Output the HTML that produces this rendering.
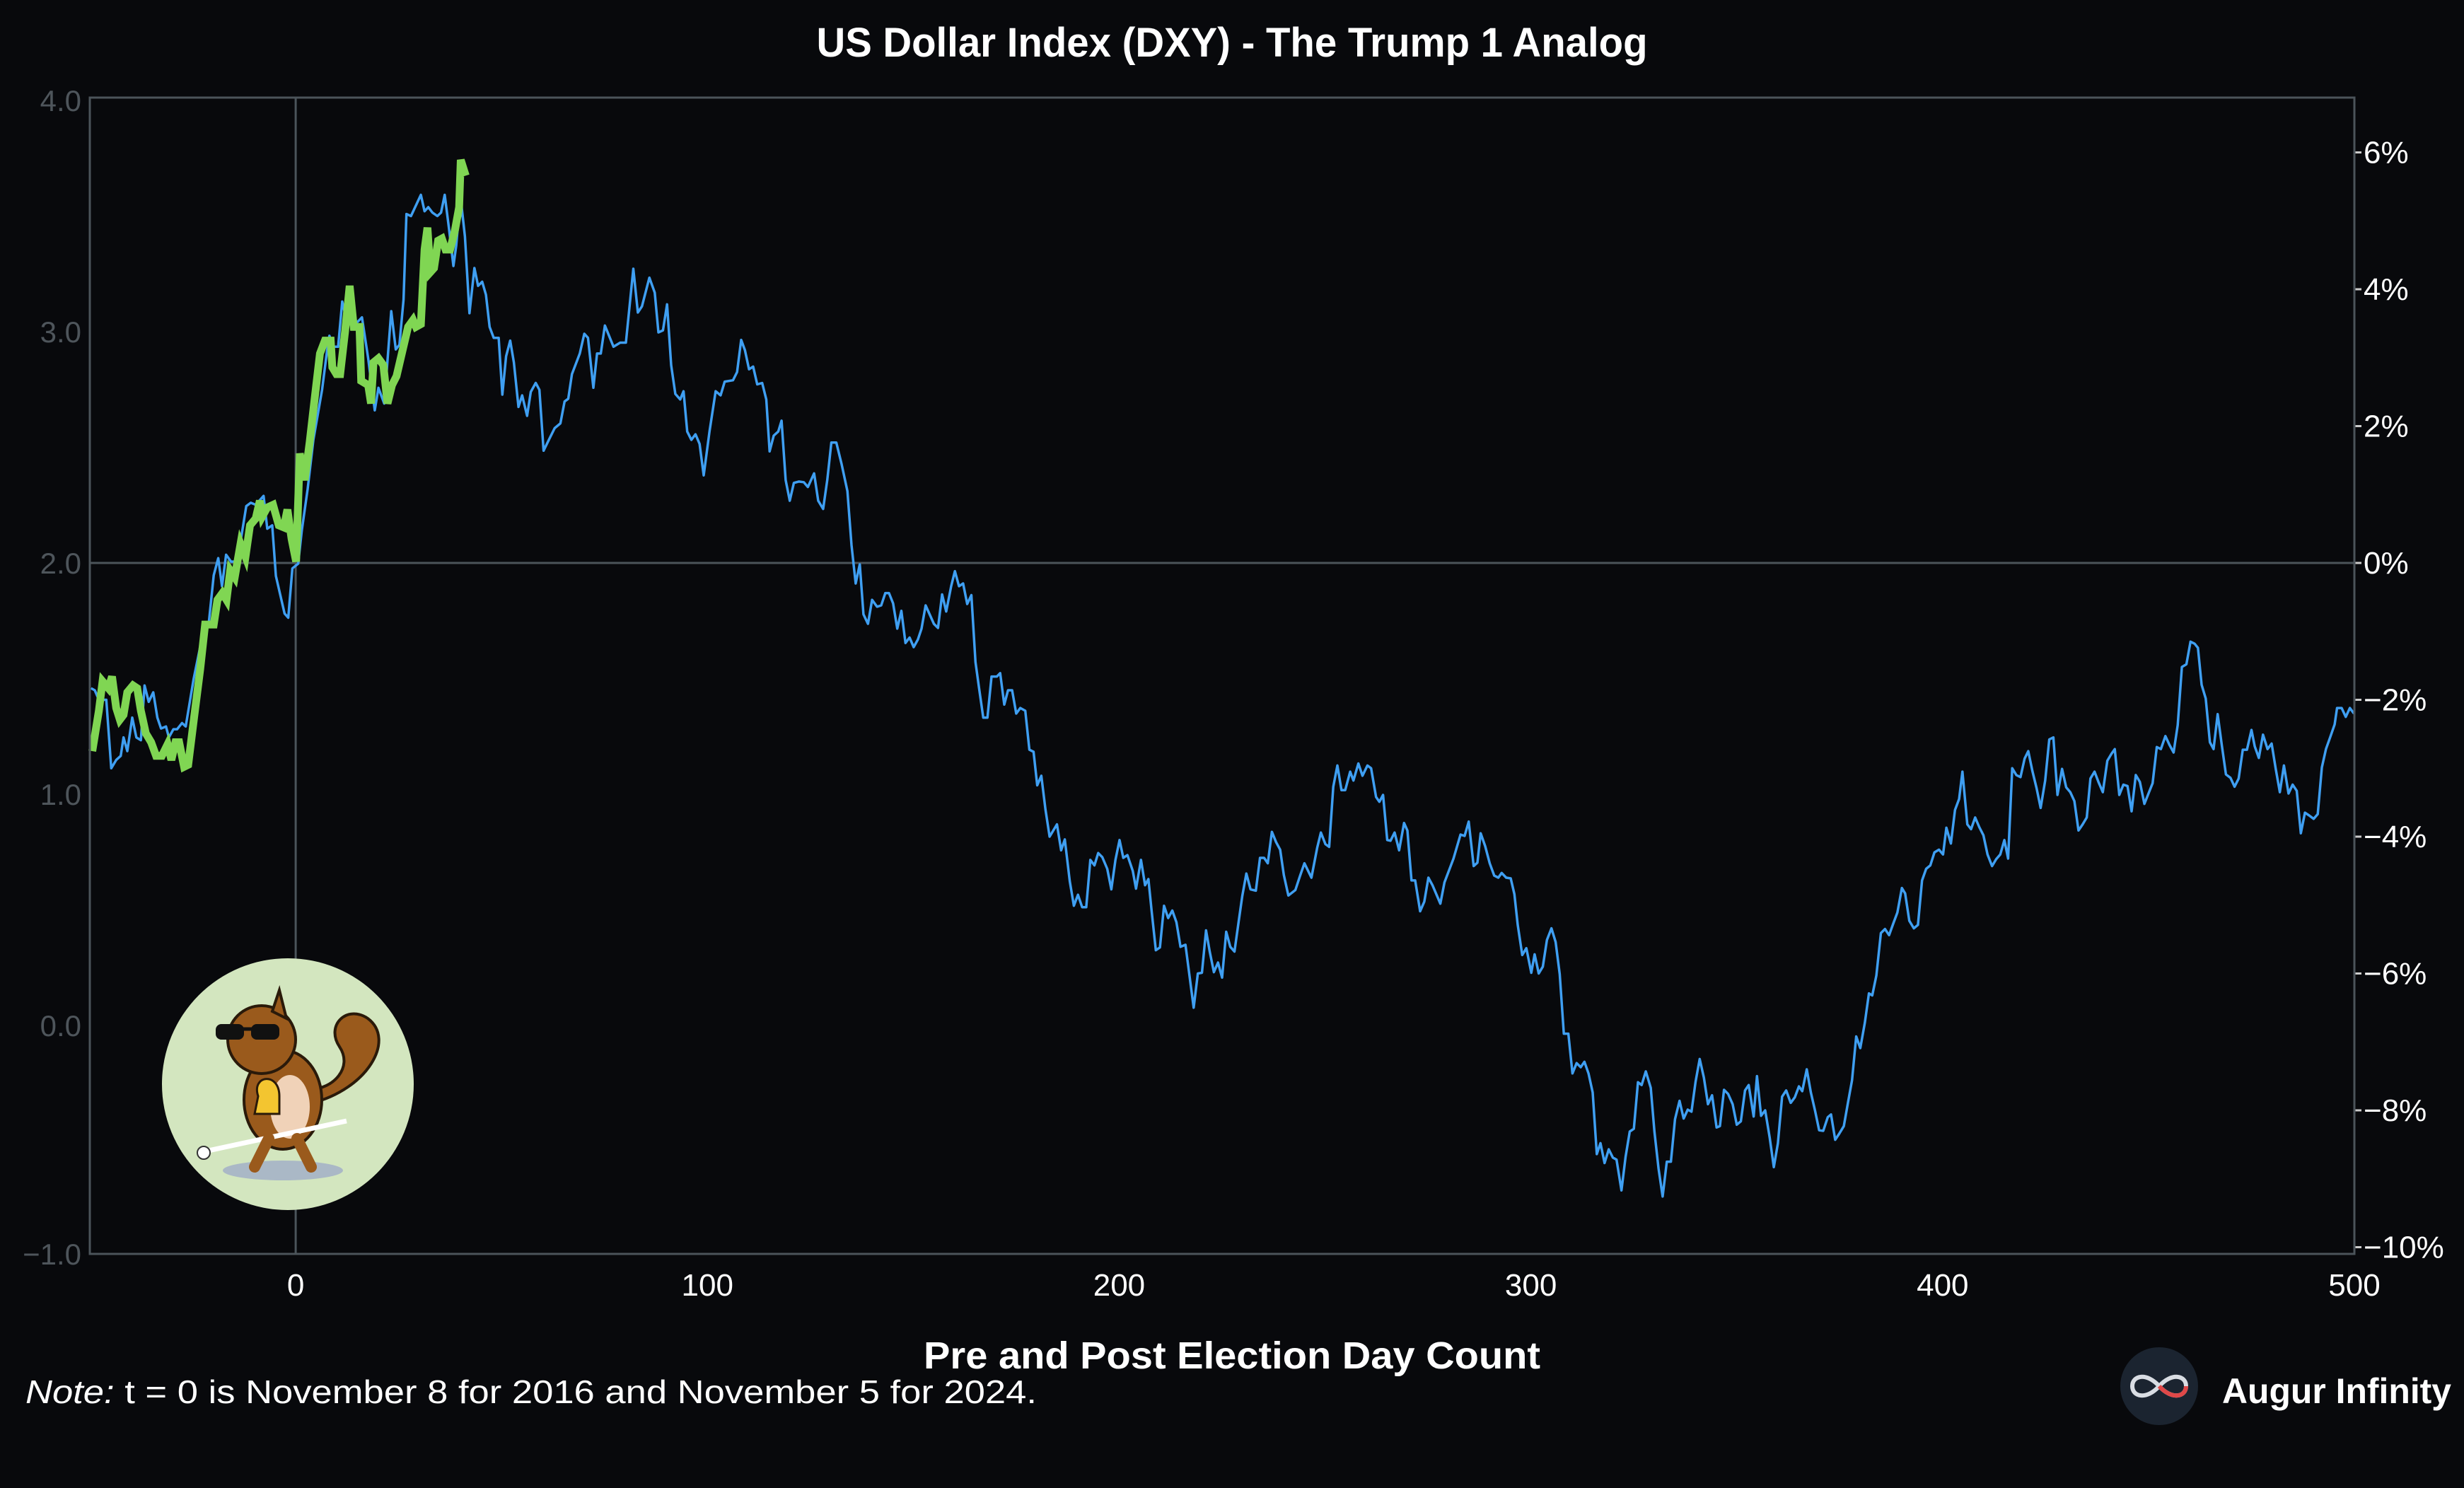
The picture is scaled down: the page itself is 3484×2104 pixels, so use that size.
<!DOCTYPE html>
<html><head><meta charset="utf-8">
<style>
html,body{margin:0;padding:0;background:#08090c;}
svg{display:block;font-family:"Liberation Sans",sans-serif;}
</style></head>
<body>
<svg id="chart" width="3484" height="2104" viewBox="0 0 3484 2104" xmlns="http://www.w3.org/2000/svg">
<rect x="0" y="0" width="3484" height="2104" fill="#08090c"/>
<text x="1742" y="80" text-anchor="middle" font-size="58" font-weight="bold" fill="#ffffff" textLength="1175" lengthAdjust="spacingAndGlyphs">US Dollar Index (DXY) - The Trump 1 Analog</text>
<g id="grid"></g>
<g id="axes"></g>
<g id="series"></g>
<rect x="127" y="138" width="3202" height="1635" fill="none" stroke="#4b545a" stroke-width="3"/>
<g>
  <circle cx="407" cy="1533" r="178" fill="#d3e6bf"/>
  <ellipse cx="400" cy="1655" rx="85" ry="14" fill="#aab8c6"/>
  <path d="M440 1560 C520 1540 560 1470 520 1440 C490 1420 460 1450 480 1480 C500 1510 470 1540 440 1540 Z" fill="#9a5a1c" stroke="#2a1a0a" stroke-width="4"/>
  <ellipse cx="400" cy="1555" rx="55" ry="70" fill="#9a5a1c" stroke="#2a1a0a" stroke-width="4"/>
  <ellipse cx="410" cy="1565" rx="28" ry="45" fill="#f0d2b8"/>
  <circle cx="370" cy="1470" r="48" fill="#9a5a1c" stroke="#2a1a0a" stroke-width="4"/>
  <path d="M385 1430 L395 1400 L405 1440 Z" fill="#9a5a1c" stroke="#2a1a0a" stroke-width="4"/>
  <rect x="305" y="1448" width="40" height="22" rx="8" fill="#111"/>
  <rect x="355" y="1448" width="40" height="22" rx="8" fill="#111"/>
  <line x1="340" y1="1455" x2="360" y2="1455" stroke="#111" stroke-width="5"/>
  <path d="M365 1550 C355 1520 395 1515 395 1550 L395 1575 L360 1575 Z" fill="#f3c530" stroke="#2a1a0a" stroke-width="3"/>
  <line x1="290" y1="1628" x2="490" y2="1585" stroke="#ffffff" stroke-width="7"/>
  <circle cx="288" cy="1630" r="9" fill="#fff" stroke="#333" stroke-width="2"/>
  <path d="M380 1610 L360 1650 M420 1610 L440 1650" stroke="#9a5a1c" stroke-width="16" stroke-linecap="round"/>
</g>
<text x="1742" y="1935" text-anchor="middle" font-size="54" font-weight="bold" fill="#ffffff" textLength="872" lengthAdjust="spacingAndGlyphs">Pre and Post Election Day Count</text>
<text x="36" y="1984" font-size="46" fill="#ffffff" textLength="1430" lengthAdjust="spacingAndGlyphs"><tspan font-style="italic">Note:</tspan> t = 0 is November 8 for 2016 and November 5 for 2024.</text>
<g>
  <circle cx="3053" cy="1960" r="55" fill="#1b2430"/>
  <path d="M3053 1960 C3035 1940 3015 1945 3015 1960 C3015 1975 3035 1980 3053 1960 C3071 1940 3091 1945 3091 1960 C3091 1975 3071 1980 3053 1960 Z" fill="none" stroke="#d9dde3" stroke-width="6"/>
  <path d="M3053 1960 C3071 1980 3091 1975 3091 1960" fill="none" stroke="#e04848" stroke-width="6"/>
</g>
<text x="3142" y="1984" font-size="50" font-weight="bold" fill="#ffffff" textLength="324" lengthAdjust="spacingAndGlyphs">Augur Infinity</text>
</svg>
<script>
var xTicks=[0,100,200,300,400,500];
var leftTicks=[4.0,3.0,2.0,1.0,0.0,-1.0];
var leftLabels=["4.0","3.0","2.0","1.0","0.0","\u22121.0"];
var rightTicks=[6,4,2,0,-2,-4,-6,-8,-10];
var rightLabels=["6%","4%","2%","0%","\u22122%","\u22124%","\u22126%","\u22128%","\u221210%"];
var blueT=[-49.7,-48.8,-47.8,-46,-44.8,-43.6,-42.5,-41.8,-40.9,-39.7,-38.7,-37.6,-36.7,-35.7,-34.6,-33.6,-32.7,-31.5,-30.8,-29.7,-28.8,-27.6,-26.7,-24.8,-23.2,-21.1,-19.9,-18.8,-17.9,-16.9,-15.7,-14.3,-13.1,-12,-10.9,-9.7,-7.8,-6.9,-5.7,-4.8,-2.7,-1.8,-0.8,0.6,1.5,2.9,4.3,6.4,7.6,8.2,9.0,10.3,11.3,12.2,13.1,14.5,16.1,17.6,19.2,20.1,21.5,23.2,24.3,25.2,26.2,26.9,28.0,30.4,31.3,32.2,33.2,34.4,35.3,36.2,37.2,38.3,39.0,40.0,41.1,42.2,43.4,44.3,45.3,46.2,47.1,48.1,49.3,50.2,51.1,52.1,53.0,54.1,55.0,56.2,57.1,58.3,59.2,60.2,61.5,62.9,64.3,65.3,66.2,67.1,69.0,70.1,71.0,72.3,73.2,74.1,75.1,77.2,78.8,80.2,82.0,83.1,84.1,85.9,87.2,88.1,89.2,90.2,91.2,92.2,93.4,94.2,95.1,96.1,97.1,98.1,99.1,100.5,102.0,103.2,104.2,106.2,107.2,108.2,109.1,110.1,111.1,112.1,113.3,114.3,115.1,116.1,117.2,118.0,119.0,120.0,121.0,122.2,123.4,124.4,125.9,126.9,128.1,129.1,130.1,131.3,132.6,134.0,135.0,136.0,137.0,137.9,139.0,140.0,141.2,142.2,143.2,144.1,145.1,146.1,147.1,148.1,149.1,150.1,151.1,152.0,153.0,155.0,156.0,157.0,158.0,159.2,160.1,161.1,162.1,163.1,164.1,165.1,166.0,167.0,168.0,169.0,170.3,171.1,172.1,173.0,174.0,175.0,176.0,177.2,178.2,179.2,180.1,181.1,182.1,183.1,184.9,185.9,186.8,188.0,189.0,190.0,191.0,192.0,193.0,194.0,194.9,195.9,197.1,198.1,199.1,200.1,201.0,202.0,203.3,204.1,205.3,206.3,207.1,207.9,208.9,209.9,210.9,211.9,212.9,213.9,214.9,216.1,217.1,218.1,219.1,220.1,221.1,222.0,223.0,224.0,225.0,226.0,227.0,228.0,229.0,229.9,230.9,231.9,233.2,234.2,235.2,236.1,237.1,238.1,239.1,240.0,241.1,242.8,243.9,245.0,246.7,248.1,249.0,250.1,251.0,252.0,253.0,254.0,254.9,256.1,256.9,258.1,259.1,260.3,261.2,262.4,263.2,264.1,265.1,265.9,266.9,268.0,269.2,270.0,271.0,271.9,273.1,274.1,275.1,276.1,278.0,279.0,281.2,282.9,283.9,284.9,286.1,287.0,287.8,288.9,290.0,291.1,292.1,292.9,294.0,295.1,296.0,296.8,297.9,298.9,300.1,300.9,301.9,302.9,303.9,305.0,306.0,307.0,308.0,309.1,310.1,311.1,312.1,313.0,314.0,315.0,316.0,316.9,317.9,318.9,319.9,320.8,322.0,323.0,324.0,325.0,326.0,326.9,327.9,329.1,330.0,331.0,332.0,333.0,334.0,335.0,336.1,337.1,338.1,339.0,340.0,341.0,342.0,343.0,344.0,345.1,345.9,346.9,347.9,349.0,350.0,351.0,352.0,352.9,354.1,354.9,355.9,356.9,358.0,359.0,360.0,361.0,362.0,363.1,364.1,365.1,365.9,367.0,368.0,369.0,370.0,371.0,372.1,372.9,373.9,374.9,376.0,377.0,378.0,379.0,380.0,381.1,382.1,382.9,383.9,385.0,386.0,387.0,388.0,389.0,390.1,390.9,391.9,393.0,394.0,395.0,396.0,397.0,398.0,399.1,400.1,400.9,402.0,403.0,404.0,404.8,406.0,406.9,407.9,408.9,409.9,410.9,412.0,413.0,414.0,415.0,415.9,416.9,417.9,418.9,419.9,420.8,421.8,422.8,423.8,424.9,425.9,426.9,427.9,429.0,430.0,431.0,432.0,433.0,434.0,435.0,435.9,436.9,437.9,438.9,440.0,441.0,441.8,442.9,443.9,444.9,445.9,446.9,447.9,449.0,450.0,451.0,452.0,453.0,454.1,455.1,456.1,457.1,458.1,459.2,460.2,461.2,462.0,462.9,463.9,464.9,465.8,466.8,467.8,468.8,469.9,470.9,471.9,472.9,473.9,475.0,475.8,476.8,477.8,478.9,479.9,480.9,481.9,482.9,484.0,485.0,486.0,487.0,488.0,489.0,490.1,491.1,492.1,493.1,494.1,495.2,495.8,496.9,497.9,498.9,499.9];
var blueV=[-1.83,-1.86,-2.0,-2.0,-3.0,-2.88,-2.82,-2.55,-2.75,-2.26,-2.55,-2.59,-1.79,-2.03,-1.89,-2.26,-2.42,-2.39,-2.55,-2.43,-2.43,-2.34,-2.39,-1.70,-1.23,-0.87,-0.18,0.07,-0.34,0.12,0.02,0.02,0.42,0.83,0.88,0.85,0.98,0.50,0.55,-0.19,-0.74,-0.80,-0.08,-0.01,0.48,1.08,1.80,2.53,3.09,3.32,3.16,3.16,3.82,3.59,3.91,3.49,3.59,2.99,2.23,2.56,2.33,3.68,3.12,3.19,3.85,5.10,5.07,5.38,5.14,5.20,5.12,5.07,5.12,5.38,4.90,4.34,4.64,5.37,4.77,3.65,4.31,4.05,4.11,3.92,3.45,3.29,3.29,2.46,3.02,3.25,2.93,2.28,2.45,2.15,2.50,2.63,2.53,1.64,1.80,1.97,2.04,2.36,2.40,2.76,3.06,3.35,3.29,2.56,3.06,3.06,3.47,3.16,3.22,3.22,4.30,3.66,3.75,4.17,3.95,3.37,3.40,3.78,2.89,2.47,2.39,2.51,1.92,1.80,1.88,1.74,1.28,1.92,2.51,2.45,2.65,2.67,2.79,3.26,3.11,2.83,2.87,2.61,2.63,2.39,1.63,1.86,1.92,2.08,1.21,0.91,1.17,1.19,1.18,1.11,1.31,0.91,0.79,1.21,1.76,1.76,1.44,1.05,0.26,-0.30,-0.02,-0.75,-0.89,-0.54,-0.64,-0.62,-0.44,-0.44,-0.59,-0.96,-0.70,-1.17,-1.09,-1.23,-1.12,-0.96,-0.62,-0.89,-0.95,-0.46,-0.71,-0.34,-0.12,-0.34,-0.30,-0.60,-0.47,-1.45,-1.84,-2.26,-2.26,-1.66,-1.66,-1.61,-2.07,-1.86,-1.86,-2.20,-2.12,-2.16,-2.73,-2.76,-3.25,-3.11,-3.60,-4.00,-3.82,-4.20,-4.04,-4.65,-5.01,-4.85,-5.03,-5.03,-4.34,-4.42,-4.24,-4.30,-4.47,-4.77,-4.34,-4.05,-4.31,-4.27,-4.50,-4.76,-4.34,-4.71,-4.62,-5.09,-5.66,-5.62,-5.01,-5.19,-5.08,-5.25,-5.61,-5.58,-6.04,-6.50,-6.00,-5.99,-5.37,-5.68,-5.98,-5.84,-6.06,-5.39,-5.61,-5.68,-5.25,-4.87,-4.54,-4.77,-4.79,-4.31,-4.31,-4.39,-3.93,-4.08,-4.19,-4.56,-4.86,-4.78,-4.58,-4.39,-4.60,-4.16,-3.94,-4.11,-4.15,-3.27,-2.96,-3.32,-3.32,-3.05,-3.18,-2.93,-3.11,-2.96,-3.00,-3.42,-3.49,-3.39,-4.05,-4.06,-3.94,-4.20,-3.80,-3.91,-4.64,-4.64,-5.09,-4.95,-4.60,-4.71,-4.98,-4.67,-4.32,-3.97,-3.99,-3.78,-4.43,-4.38,-3.95,-4.14,-4.39,-4.57,-4.60,-4.53,-4.60,-4.61,-4.84,-5.29,-5.73,-5.63,-5.99,-5.72,-6.00,-5.90,-5.51,-5.34,-5.54,-6.01,-6.88,-6.88,-7.46,-7.31,-7.37,-7.29,-7.46,-7.74,-8.64,-8.48,-8.77,-8.57,-8.69,-8.72,-9.17,-8.68,-8.31,-8.27,-7.59,-7.63,-7.43,-7.67,-8.31,-8.85,-9.26,-8.75,-8.75,-8.13,-7.86,-8.12,-7.99,-8.02,-7.58,-7.25,-7.52,-7.91,-7.78,-8.25,-8.23,-7.70,-7.76,-7.91,-8.21,-8.16,-7.71,-7.63,-8.09,-7.50,-8.08,-8.00,-8.40,-8.83,-8.48,-7.80,-7.71,-7.89,-7.81,-7.65,-7.72,-7.40,-7.74,-8.00,-8.29,-8.30,-8.10,-8.06,-8.43,-8.34,-8.23,-7.89,-7.56,-6.92,-7.09,-6.72,-6.29,-6.32,-6.03,-5.41,-5.35,-5.44,-5.27,-5.11,-4.75,-4.83,-5.23,-5.34,-5.29,-4.64,-4.47,-4.42,-4.23,-4.19,-4.26,-3.87,-4.10,-3.61,-3.45,-3.05,-3.82,-3.89,-3.72,-3.86,-3.98,-4.26,-4.43,-4.33,-4.26,-4.05,-4.32,-3.00,-3.10,-3.13,-2.86,-2.75,-3.04,-3.29,-3.58,-3.18,-2.58,-2.55,-3.39,-3.01,-3.28,-3.35,-3.48,-3.91,-3.82,-3.72,-3.15,-3.05,-3.21,-3.35,-2.89,-2.79,-2.72,-3.39,-3.24,-3.26,-3.63,-3.10,-3.20,-3.52,-3.37,-3.22,-2.69,-2.72,-2.53,-2.66,-2.77,-2.37,-1.52,-1.48,-1.15,-1.18,-1.24,-1.78,-1.98,-2.62,-2.72,-2.21,-2.66,-3.09,-3.14,-3.27,-3.15,-2.73,-2.73,-2.44,-2.68,-2.85,-2.51,-2.72,-2.64,-3.01,-3.35,-2.96,-3.37,-3.24,-3.33,-3.95,-3.65,-3.69,-3.74,-3.67,-2.99,-2.72,-2.55,-2.36,-2.12,-2.12,-2.25,-2.12,-2.20];
var greenT=[-49.4,-47.8,-46.9,-45.5,-44.6,-43.6,-42.7,-41.8,-40.9,-39.5,-38.5,-37.6,-36.4,-35.1,-33.9,-32.5,-31.1,-30.2,-29.2,-28.3,-27.1,-26.1,-24.6,-23.2,-22.0,-19.9,-19.0,-17.8,-16.8,-15.9,-14.8,-13.4,-12.2,-11.1,-9.7,-8.7,-8.1,-6.9,-5.5,-4.1,-2.9,-2.0,-1.0,0.1,1.0,2.2,3.4,4.6,5.9,7.1,8.5,8.9,9.9,10.8,12.0,13.1,14.1,15.5,15.9,17.6,18.3,18.9,20.1,21.3,22.3,23.4,24.5,26.0,27.3,28.5,29.2,30.4,31.3,32.0,32.7,33.6,34.6,35.5,36.4,37.5,38.7,39.7,40.1,41.3];
var greenV=[-2.75,-2.16,-1.73,-1.83,-1.66,-2.12,-2.29,-2.22,-1.89,-1.79,-1.83,-2.16,-2.49,-2.62,-2.82,-2.82,-2.65,-2.88,-2.62,-2.62,-2.98,-2.95,-2.22,-1.56,-0.90,-0.90,-0.54,-0.44,-0.54,-0.11,-0.21,0.28,0.09,0.55,0.65,0.91,0.68,0.81,0.85,0.55,0.52,0.78,0.35,0.02,1.60,1.21,1.77,2.40,3.06,3.25,3.25,2.86,2.76,2.76,3.39,4.05,3.45,3.45,2.66,2.60,2.33,2.93,2.99,2.89,2.33,2.60,2.73,3.12,3.45,3.55,3.45,3.49,4.58,4.90,4.25,4.31,4.71,4.74,4.58,4.58,4.87,5.20,5.89,5.66];

var NS="http://www.w3.org/2000/svg";
var PL=127,PR=3329,PT=138,PB=1773;
function xs(t){return PL+(t+50)*(PR-PL)/550;}
function ys(p){return 796-p*96.75;}
function yl(v){return 796-(v-2)*327;}
function mk(tag,attrs,parent){var e=document.createElementNS(NS,tag);for(var k in attrs)e.setAttribute(k,attrs[k]);parent.appendChild(e);return e;}
var grid=document.getElementById('grid'),axes=document.getElementById('axes'),series=document.getElementById('series');
var vz=mk('line',{x1:xs(0),x2:xs(0),y1:PT,y2:PB,stroke:'#4b545a','stroke-width':3},grid);


var hz=mk('line',{x1:PL,x2:PR,y1:ys(0),y2:ys(0),stroke:'#4b545a','stroke-width':3},grid);


xTicks.forEach(function(t){
  var tx=mk('text',{x:xs(t),y:1832,'text-anchor':'middle','font-size':44,fill:'#ffffff'},axes);
  tx.textContent=String(t);
  
  
});
leftTicks.forEach(function(v,i){
  var y=Math.min(yl(v),PB);
  var tx=mk('text',{x:115,y:y+15,'text-anchor':'end','font-size':42,fill:'#4e555b'},axes);
  tx.textContent=leftLabels[i];
  
  
});
rightTicks.forEach(function(p,i){
  var y=ys(p);
  var tk=mk('line',{x1:PR,x2:PR+10,y1:y,y2:y,stroke:'#cccccc','stroke-width':3},axes);
  
  
  var tx=mk('text',{x:3342,y:y+15,'font-size':44,fill:'#ffffff'},axes);
  tx.textContent=rightLabels[i];
  
  
});
function pts(T,V){return T.map(function(t,i){return xs(t).toFixed(1)+','+ys(V[i]).toFixed(1);}).join(' ');}
var bl=mk('polyline',{points:pts(blueT,blueV),fill:'none',stroke:'#3f9ff2','stroke-width':3.5,'stroke-linejoin':'round'},series);


var gl=mk('polyline',{points:pts(greenT,greenV),fill:'none',stroke:'#80d653','stroke-width':11,'stroke-linejoin':'miter'},series);


</script>
</body></html>
